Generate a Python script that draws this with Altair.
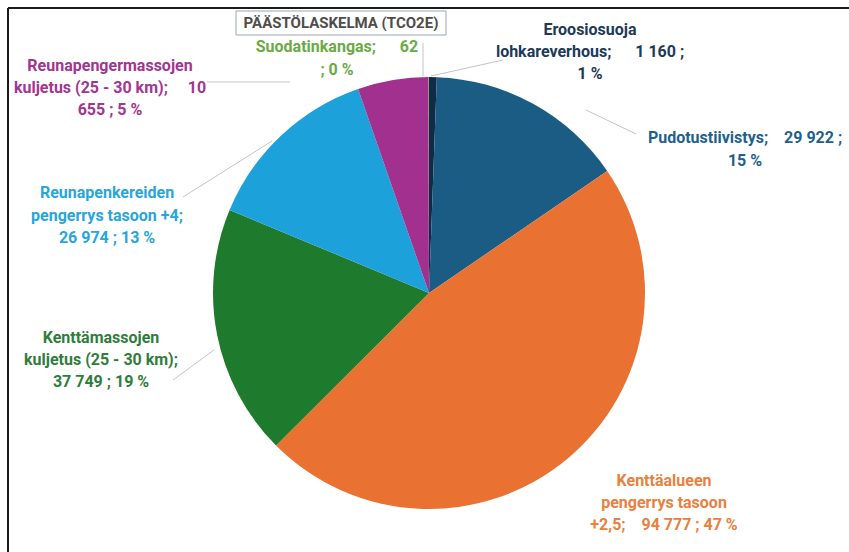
import altair as alt
import pandas as pd

# ---- data -------------------------------------------------------------
categories = [
    "Eroosiosuoja lohkareverhous",
    "Pudotustiivistys",
    "Kenttäalueen pengerrys tasoon +2,5",
    "Kenttämassojen kuljetus (25 - 30 km)",
    "Reunapenkereiden pengerrys tasoon +4",
    "Reunapengermassojen kuljetus (25 - 30 km)",
    "Suodatinkangas",
]
values = [1160, 29922, 94777, 37749, 26974, 10655, 62]
slice_colors = ["#0f2b46", "#1b5c85", "#e97132", "#1e7a2c", "#1da1da", "#a2308f", "#70ad47"]
label_colors = ["#1d3a57", "#1f5f8e", "#e9803e", "#2f7d3b", "#27a5dd", "#a23591", "#6aaa45"]

NB = "\u00a0"
label_lines = [
    ["Eroosiosuoja", "lohkareverhous;" + NB * 6 + "1" + NB + "160" + NB + ";", "1" + NB + "%"],
    ["Pudotustiivistys;" + NB * 4 + "29" + NB + "922" + NB + ";", "15" + NB + "%"],
    ["Kenttäalueen", "pengerrys tasoon", "+2,5;" + NB * 4 + "94" + NB + "777" + NB + ";" + NB + "47" + NB + "%"],
    ["Kenttämassojen", "kuljetus (25 - 30 km);", "37" + NB + "749" + NB + ";" + NB + "19" + NB + "%"],
    ["Reunapenkereiden", "pengerrys tasoon +4;", "26" + NB + "974" + NB + ";" + NB + "13" + NB + "%"],
    ["Reunapengermassojen", "kuljetus (25 - 30 km);" + NB * 5 + "10", "655" + NB + ";" + NB + "5" + NB + "%"],
    ["Suodatinkangas;" + NB * 6 + "62", ";" + NB + "0" + NB + "%"],
]
title_text = "PÄÄSTÖLASKELMA (TCO2E)"

# ---- layout (pixel positions of annotations) ---------------------------
W, H = 849, 552
CX, CY, R = 429, 293, 216
label_anchor = [  # centre x, first line y, line step
    (590, 30, 22),
    (745, 138, 23),
    (664, 481, 22),
    (101, 338, 22),
    (107, 193, 22.5),
    (110, 66, 22),
    (337, 47, 23),
]
leaders = [
    [(431, 76), (503, 60)],
    [(586, 110), (636, 134)],
    [(207, 82), (290, 82)],
    [(183, 197), (272, 141)],
    [(173, 380), (214, 350)],
    [(423, 76), (423, 43)],
]

FONT = "Roboto, sans-serif"

pie_df = pd.DataFrame({"cat": categories, "value": values, "idx": list(range(len(categories)))})

rows = []
for i, lines in enumerate(label_lines):
    x0, y0, step = label_anchor[i]
    for j, t in enumerate(lines):
        rows.append({"cat": categories[i], "text": t, "x": x0, "y": y0 + j * step})
lab_df = pd.DataFrame(rows)

seg_rows = []
for k, seg in enumerate(leaders):
    for (x, y) in seg:
        seg_rows.append({"seg": k, "x": x, "y": y})
seg_df = pd.DataFrame(seg_rows)

xs = alt.Scale(domain=[0, W], range=[0, W])
ys = alt.Scale(domain=[0, H], range=[0, H])
cscale_slice = alt.Scale(domain=categories, range=slice_colors)
cscale_lab = alt.Scale(domain=categories, range=label_colors)

pie = alt.Chart(pie_df).mark_arc(radius=R).encode(
    theta=alt.Theta("value:Q", stack=True),
    order=alt.Order("idx:Q"),
    color=alt.Color("cat:N", scale=cscale_slice, legend=None),
    x=alt.value(CX),
    y=alt.value(CY),
)

leader = alt.Chart(seg_df).mark_line(color="#c4c4c4", strokeWidth=1).encode(
    x=alt.X("x:Q", scale=xs, axis=None),
    y=alt.Y("y:Q", scale=ys, axis=None),
    detail="seg:N",
)

labels = alt.Chart(lab_df).mark_text(
    font=FONT, fontSize=16, fontWeight="bold", align="center", baseline="middle"
).encode(
    x=alt.X("x:Q", scale=xs, axis=None),
    y=alt.Y("y:Q", scale=ys, axis=None),
    text="text:N",
    color=alt.Color("cat:N", scale=cscale_lab, legend=None),
)

title_box = alt.Chart(pd.DataFrame({"t": [title_text]})).mark_rect(
    fill="white", stroke="#9aa6b2", strokeWidth=1
).encode(x=alt.value(236), x2=alt.value(446), y=alt.value(11), y2=alt.value(35))

title = alt.Chart(pd.DataFrame({"t": [title_text]})).mark_text(
    font=FONT, fontSize=15, fontWeight="bold", color="#4d4d4d", align="center", baseline="middle"
).encode(x=alt.value(341), y=alt.value(23), text="t:N")

frame_top = alt.Chart(pd.DataFrame({"a": [0]})).mark_rule(color="#1a1a1a", strokeWidth=2).encode(
    x=alt.value(8), x2=alt.value(W), y=alt.value(8)
)
frame_left = alt.Chart(pd.DataFrame({"a": [0]})).mark_rule(color="#1a1a1a", strokeWidth=2).encode(
    x=alt.value(8), y=alt.value(8), y2=alt.value(H)
)

chart = alt.layer(
    frame_top, frame_left, pie, leader, title_box, title, labels
).resolve_scale(color="independent").properties(
    width=W, height=H, padding=0, autosize=alt.AutoSizeParams(type="none"), background="white"
).configure_view(stroke=None)

chart.save("out.html", embed_options={"renderer": "svg", "actions": False})
